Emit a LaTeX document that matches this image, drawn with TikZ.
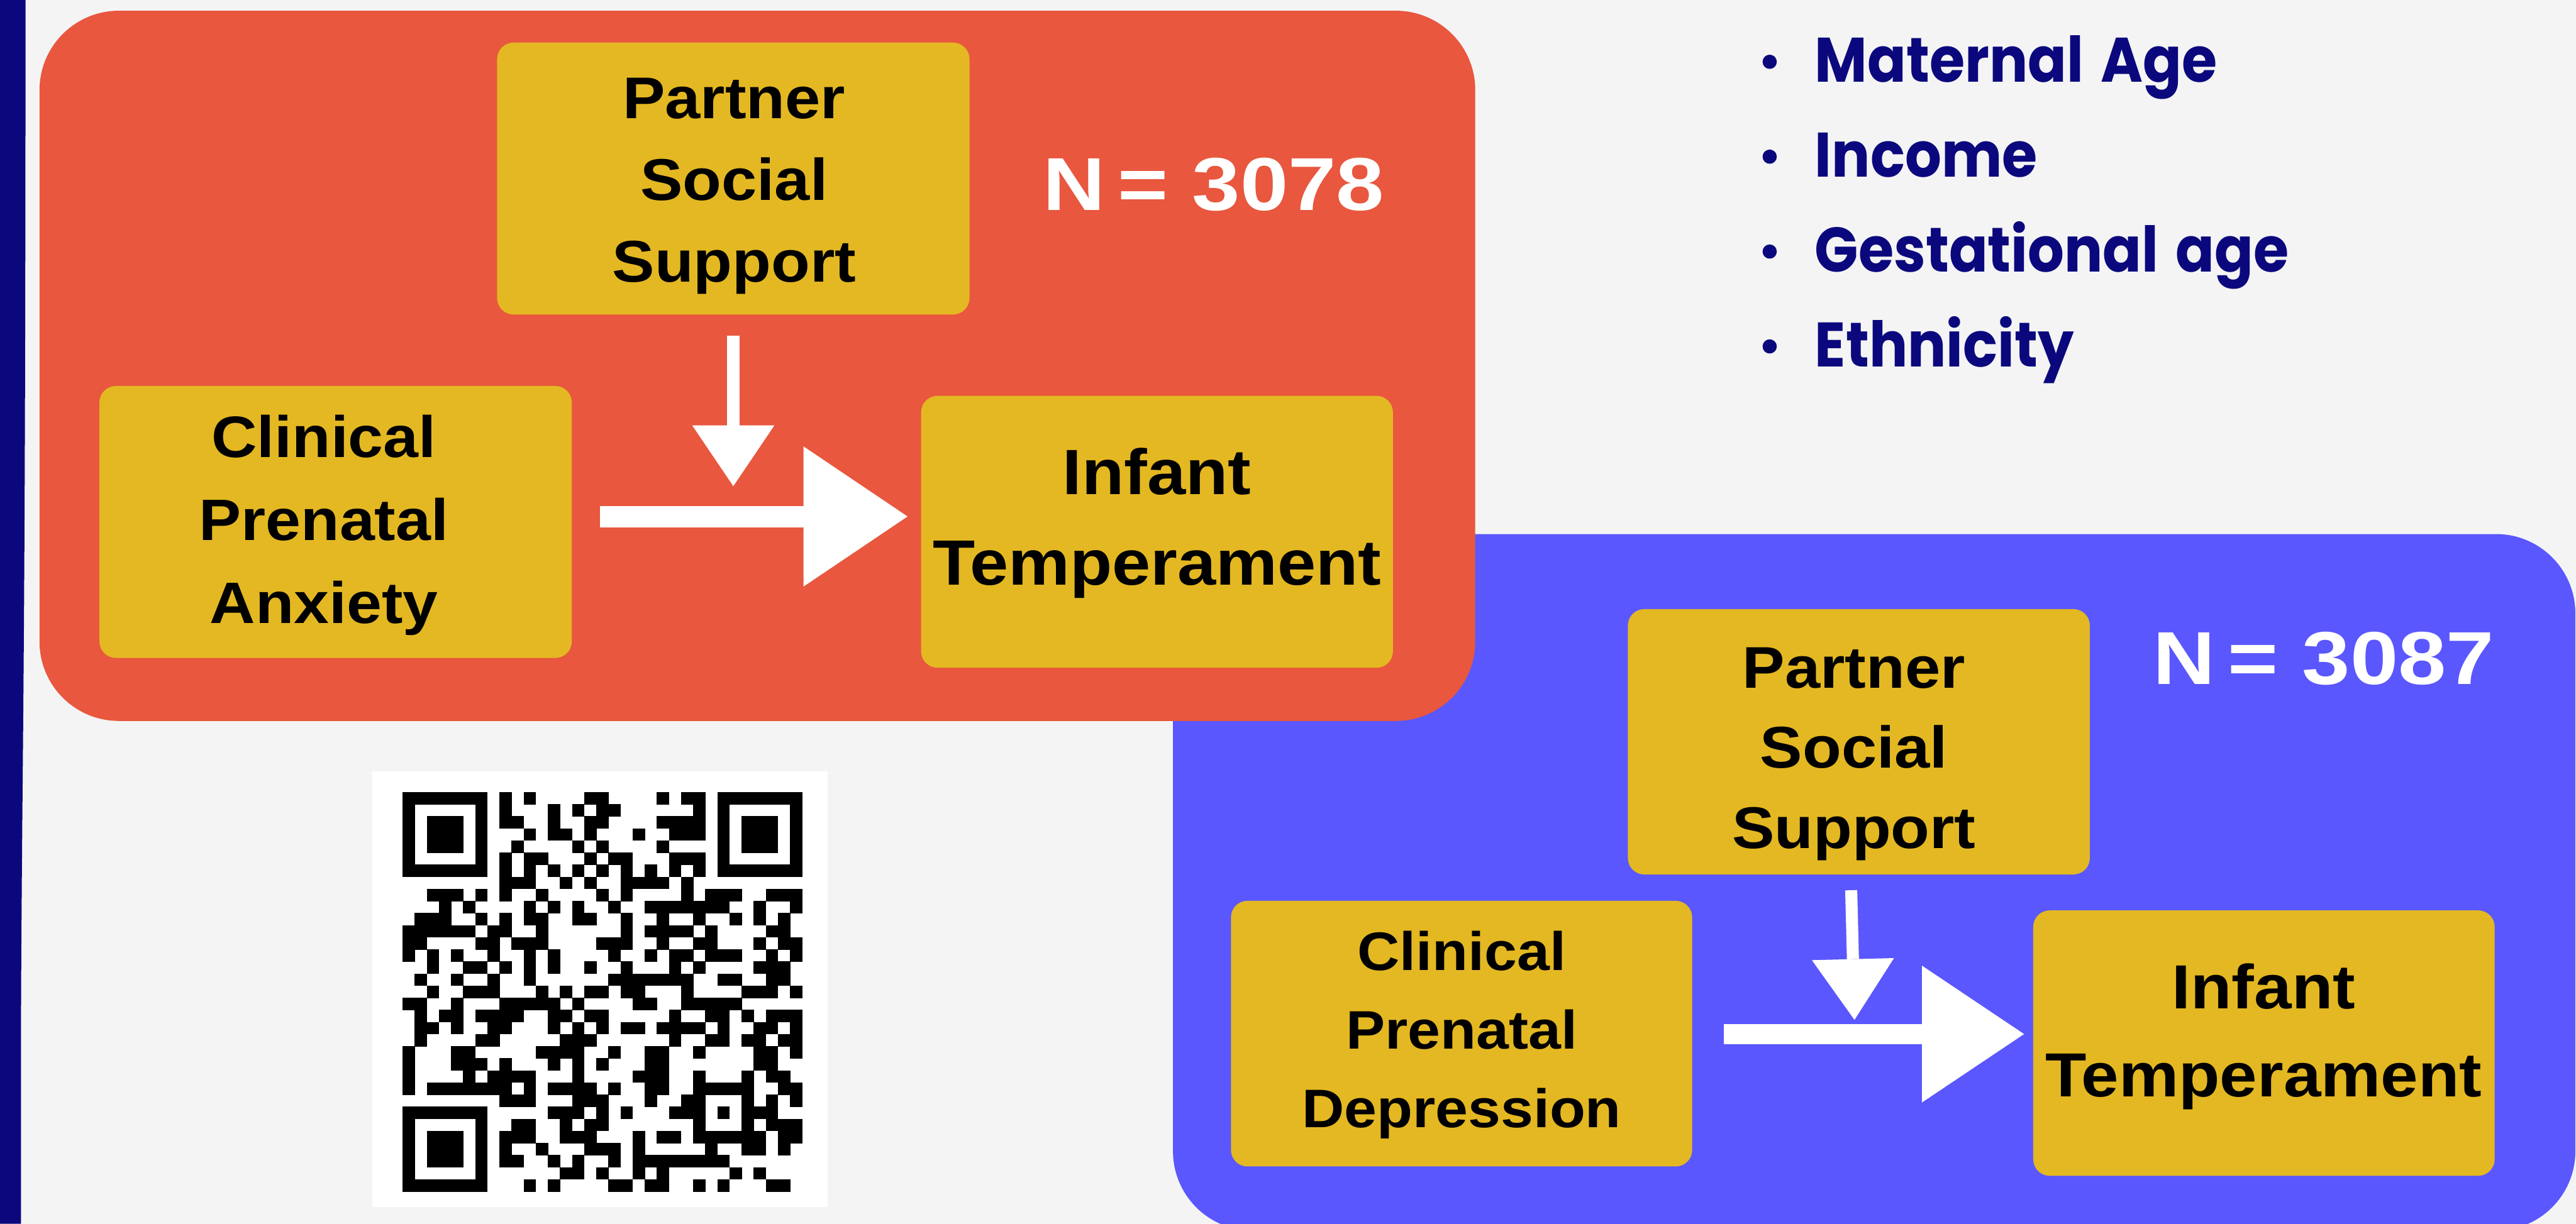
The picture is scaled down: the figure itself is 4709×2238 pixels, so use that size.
\documentclass[tikz,border=0pt]{standalone}
\usepackage{fontspec}
\usetikzlibrary{arrows.meta}
\newfontfamily\boxfont{Liberation Sans}[FakeStretch=1.08]
\newfontfamily\numfont{Liberation Sans}[FakeStretch=1.15]
\newfontfamily\listfont{Poppins}[FakeStretch=0.91,WordSpace=1.4]
\definecolor{bgc}{HTML}{F4F4F4}
\definecolor{navyc}{HTML}{0B087E}
\definecolor{redc}{HTML}{E8573E}
\definecolor{bluec}{HTML}{5A57FE}
\definecolor{yelc}{HTML}{E4B822}
\begin{document}
\begin{tikzpicture}[x=0.01cm,y=-0.01cm,
  panel/.style={inner sep=0pt, rounded corners=1.45cm},
  ybox/.style={fill=yelc, inner sep=0pt, rounded corners=0.3cm},
  btext/.style={align=center, inner sep=0pt, text depth=0pt, anchor=south, text=black},
  ntext/.style={inner sep=0pt, anchor=base west, text=white, font=\numfont\bfseries\fontsize{39}{47}\selectfont},
  ltext/.style={inner sep=0pt, anchor=base west, text=navyc, font=\listfont\bfseries\fontsize{32.7}{40}\selectfont},
  bigarrow/.style={draw=white, line cap=butt}
]
\clip (0,0) rectangle (4709,2238);
\fill[bgc] (0,0) rectangle (4709,2238);
% left bar
\fill[navyc] (0,0) -- (46.7,0) .. controls (46.5,700) and (45,1050) .. (41.5,1420)
  .. controls (39.5,1650) and (38.3,1800) .. (38.3,1950) -- (38.3,2238) -- (0,2238) -- cycle;

% panels
\node[panel, fill=bluec, minimum width=25.62cm, minimum height=12.73cm] (bluepanel) at (3426,1613.5) {};
\node[panel, fill=redc, minimum width=26.23cm, minimum height=12.98cm] (redpanel) at (1384.5,669) {};

% yellow boxes
\node[ybox, minimum width=8.63cm, minimum height=4.97cm] (pss1) at (1340.5,326.5) {};
\node[ybox, minimum width=8.63cm, minimum height=4.97cm] (cpa) at (613.5,954.5) {};
\node[ybox, minimum width=8.62cm, minimum height=4.97cm] (it1) at (2115,972.5) {};
\node[ybox, minimum width=8.44cm, minimum height=4.85cm] (pss2) at (3398,1356.5) {};
\node[ybox, minimum width=8.425cm, minimum height=4.855cm] (cpd) at (2671.75,1890.25) {};
\node[ybox, minimum width=8.43cm, minimum height=4.85cm] (it2) at (4138.5,1907.5) {};

% box texts
\node[btext, font=\boxfont\bfseries\fontsize{30.6}{42.5}\selectfont] (pss1t) at (1342,516) {Partner\\Social\\Support};
\node[btext, font=\boxfont\bfseries\fontsize{30.4}{43.1}\selectfont] (cpat) at (592,1140) {Clinical\\Prenatal\\Anxiety};
\node[btext, font=\boxfont\bfseries\fontsize{33.3}{47.1}\selectfont] (it1t) at (2115,1071) {Infant\\Temperament};
\node[btext, font=\boxfont\bfseries\fontsize{30.6}{41.7}\selectfont] (pss2t) at (3389,1552) {Partner\\Social\\Support};
\node[btext, font=\boxfont\bfseries\fontsize{28.2}{40.9}\selectfont] (cpdt) at (2672,2062.5) {Clinical\\Prenatal\\Depression};
\node[btext, font=\boxfont\bfseries\fontsize{32.4}{46}\selectfont] (it2t) at (4138,2006.5) {Infant\\Temperament};

% N labels
\node[ntext] (n1) at (1906,384) {N\hspace{-0.15em} = 3078};
\node[ntext] (n2) at (3935,1251) {N\hspace{-0.15em} = 3087};

% arrows (red panel)
\coordinate (h1s) at (1097,944.5); \coordinate (h1e) at (1659,944.5);
\coordinate (v1s) at (1340.5,614); \coordinate (v1e) at (1340.5,889);
\draw[bigarrow, line width=0.39cm, -{Triangle[length=1.9cm,width=2.56cm,line width=0pt]}] (h1s) -- (h1e);
\draw[bigarrow, line width=0.23cm, -{Triangle[length=1.11cm,width=1.5cm,line width=0pt]}] (v1s) -- (v1e);
% arrows (blue panel)
\coordinate (h2s) at (3151,1891); \coordinate (h2e) at (3700,1891);
\coordinate (v2s) at (3384,1628); \coordinate (v2e) at (3390,1865);
\draw[bigarrow, line width=0.37cm, -{Triangle[length=1.865cm,width=2.5cm,line width=0pt]}] (h2s) -- (h2e);
\draw[bigarrow, line width=0.22cm, -{Triangle[length=1.11cm,width=1.5cm,line width=0pt]}] (v2s) -- (v2e);

% covariate list
\foreach \k/\txt in {0/Maternal Age,1/Income,2/Gestational age,3/Ethnicity}{
  \fill[navyc] (3235,{113+173.5*\k}) circle (13);
  \node[ltext] (cov\k) at (3317,{150+173.5*\k}) {\txt};
}

% QR code
\fill[white] (681,1411) rectangle (1513,2207);
\foreach \r/\cols in {
0/{0,1,2,3,4,5,6,8,10,15,16,21,23,24,26,27,28,29,30,31,32},
1/{0,6,8,12,14,16,17,24,26,32},
2/{0,2,3,4,6,8,9,12,15,16,21,22,23,24,26,28,29,30,32},
3/{0,2,3,4,6,10,12,13,15,19,22,23,24,26,28,29,30,32},
4/{0,2,3,4,6,9,14,16,21,26,28,29,30,32},
5/{0,6,8,10,11,15,17,18,22,23,24,26,32},
6/{0,1,2,3,4,5,6,8,10,12,14,16,18,20,22,24,26,27,28,29,30,31,32},
7/{8,9,10,13,15,18,19,20,21,23},
8/{2,3,4,6,8,11,16,18,23,25,26,27,30,31,32},
9/{3,5,10,12,14,17,20,21,22,23,24,25,26,29,32},
10/{1,2,3,6,8,10,11,14,15,18,21,24,27,29,31},
11/{0,1,2,3,4,5,7,8,11,18,20,21,22,23,25,30,31},
12/{0,1,6,7,9,10,11,16,17,18,21,24,25,29,31,32},
13/{0,2,4,7,10,12,17,20,22,23,25,26,27,30,32},
14/{2,5,6,8,10,12,15,18,22,24,29,30,31},
15/{1,4,7,10,17,18,19,20,21,22,23,26,27,30,31},
16/{2,5,6,7,11,13,15,16,18,19,23,28,29,30,32},
17/{0,1,4,8,9,10,11,12,14,19,20,23,24,25,26,27},
18/{1,3,4,6,7,8,9,12,13,15,16,22,25,26,28,30,31,32},
19/{1,2,4,7,8,12,14,16,18,19,21,22,23,24,26,29,30,32},
20/{1,6,7,13,14,15,22,25,26,28,29,31,32},
21/{0,4,5,11,12,13,14,17,20,21,24,29,30,32},
22/{0,4,5,6,8,12,14,16,20,21,29,30},
23/{0,5,7,8,9,10,14,19,20,21,24,28,30,31},
24/{0,2,3,4,5,6,7,8,10,12,13,14,15,17,20,21,24,25,26,27,28,31,32},
25/{8,9,10,14,15,16,20,23,24,28,30,32},
26/{0,1,2,3,4,5,6,12,13,14,16,18,22,23,24,26,28,29,30},
27/{0,6,9,10,13,15,16,24,28,30,31,32},
28/{0,2,3,4,6,8,9,10,13,14,15,19,21,22,24,25,26,27,28,29,31,32},
29/{0,2,3,4,6,8,11,15,16,17,19,25,28,29,31},
30/{0,2,3,4,6,8,9,12,14,17,19,20,21,22,23,24,25,26},
31/{0,6,13,14,16,19,21,27,29},
32/{0,1,2,3,4,5,6,10,12,17,18,20,21,24,26,30,31}}{
  \foreach \c in \cols {
    \fill[black] ({736+22.13*\c},{1448.5+22.13*\r}) rectangle ++(22.6,22.6);
  }
}
\end{tikzpicture}
\end{document}
